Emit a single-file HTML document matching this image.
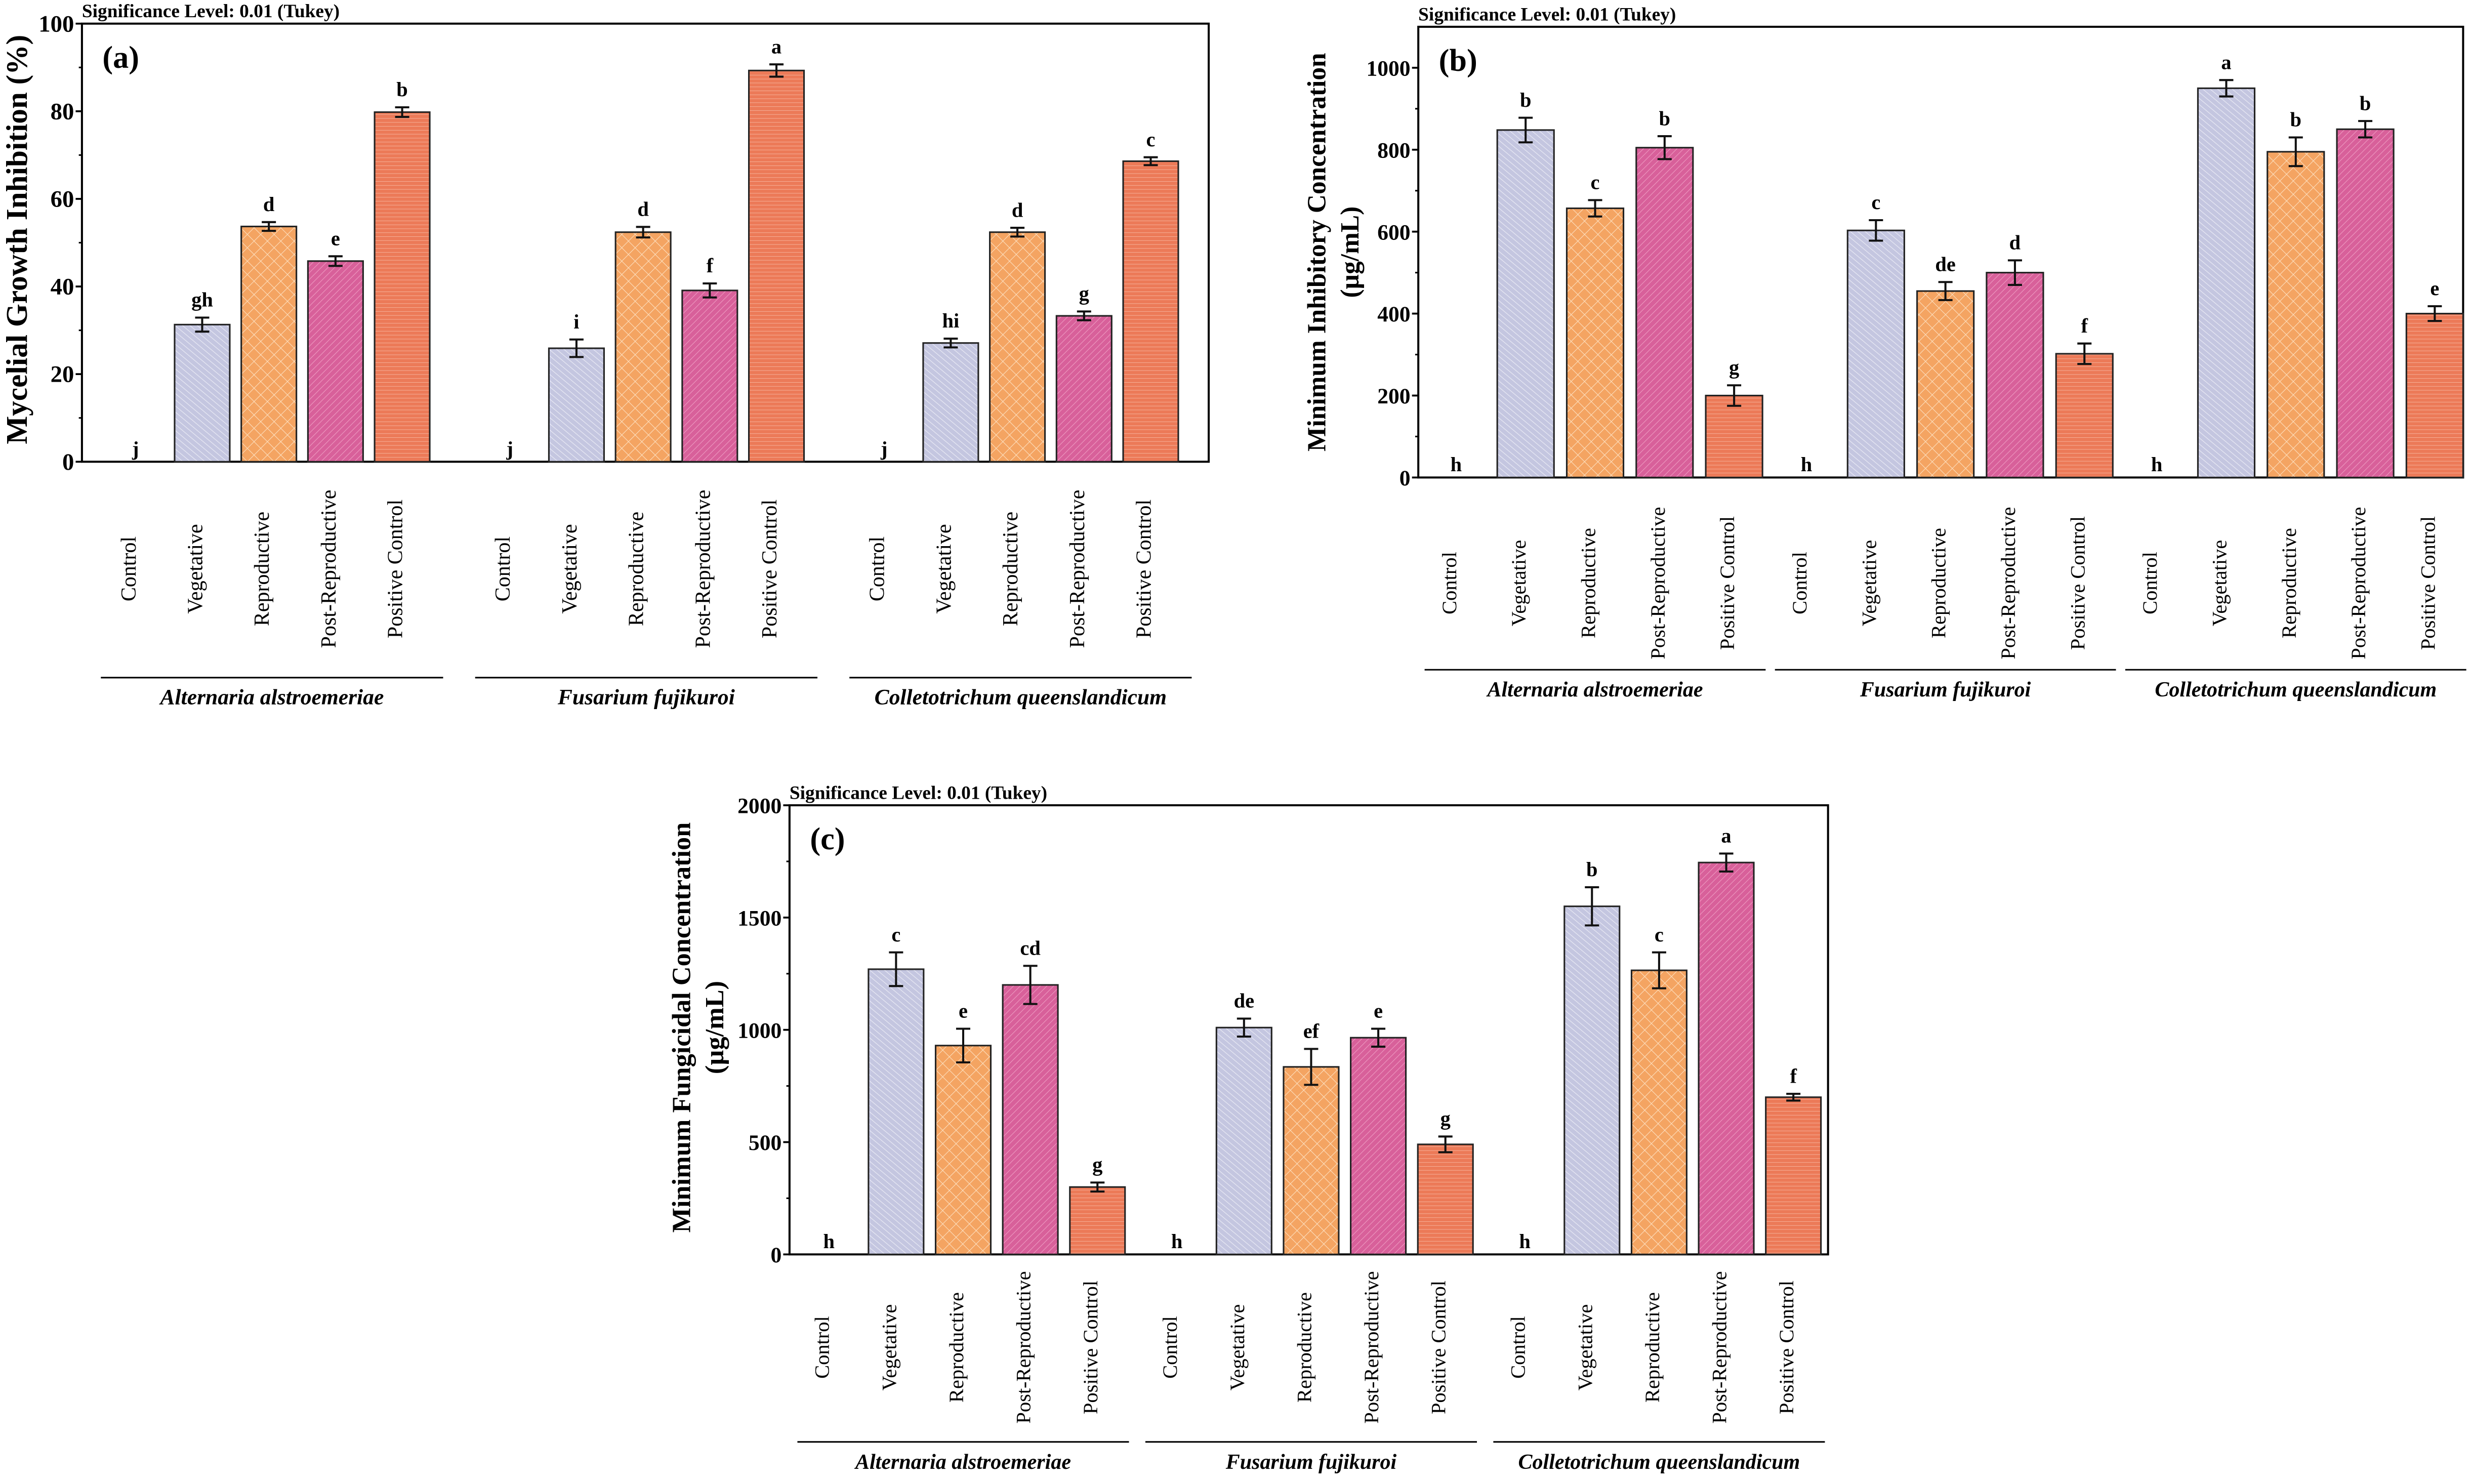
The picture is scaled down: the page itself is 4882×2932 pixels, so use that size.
<!DOCTYPE html>
<html><head><meta charset="utf-8">
<style>
html,body{margin:0;padding:0;background:#fff;}
svg{display:block;}
text{font-family:"Liberation Serif",serif;}
</style></head>
<body>
<svg id="fig" xmlns="http://www.w3.org/2000/svg" width="4882" height="2932" viewBox="0 0 1568 941.7">
<defs>
<pattern id="pVeg" patternUnits="userSpaceOnUse" width="3" height="3" patternTransform="rotate(-50)">
<rect width="3" height="3" fill="#c4c6e0"/><line x1="0" y1="0" x2="0" y2="3" stroke="#e8e9f4" stroke-width="0.8"/></pattern>
<pattern id="pRep" patternUnits="userSpaceOnUse" width="6" height="6" patternTransform="rotate(45)">
<rect width="6" height="6" fill="#f4a462"/><line x1="0" y1="0" x2="6" y2="0" stroke="#fde0c0" stroke-width="0.7"/><line x1="0" y1="0" x2="0" y2="6" stroke="#fde0c0" stroke-width="0.7"/></pattern>
<pattern id="pPost" patternUnits="userSpaceOnUse" width="3" height="3" patternTransform="rotate(45)">
<rect width="3" height="3" fill="#d8609a"/><line x1="0" y1="0" x2="0" y2="3" stroke="#ee9cc2" stroke-width="0.7"/></pattern>
<pattern id="pPos" patternUnits="userSpaceOnUse" width="3" height="2.5">
<rect width="3" height="2.5" fill="#ec7a58"/><line x1="0" y1="0" x2="3" y2="0" stroke="#f6b39c" stroke-width="0.6"/></pattern>
</defs>
<g id="root"></g>
</svg>
<script>
// ---- data ----
const categories = ["Control","Vegetative","Reproductive","Post-Reproductive","Positive Control"];
const groups = ["Alternaria alstroemeriae","Fusarium fujikuroi","Colletotrichum queenslandicum"];
// Panel (a) Mycelial Growth Inhibition (%)
const aValues = [[0,31.3,53.7,45.8,79.8],[0,25.9,52.4,39.1,89.3],[0,27.1,52.4,33.3,68.6]];
const aErrors = [[0,1.6,1.0,1.1,1.1],[0,2.0,1.2,1.6,1.4],[0,1.0,1.0,1.0,0.9]];
const aLetters = [["j","gh","d","e","b"],["j","i","d","f","a"],["j","hi","d","g","c"]];
const aTicks = [0,20,40,60,80,100];
// Panel (b) MIC
const bValues = [[0,848,657,805,200],[0,603,455,500,302],[0,950,795,850,400]];
const bErrors = [[0,30,20,28,25],[0,25,22,30,25],[0,20,35,20,18]];
const bLetters = [["h","b","c","b","g"],["h","c","de","d","f"],["h","a","b","b","e"]];
const bTicks = [0,200,400,600,800,1000];
// Panel (c) MFC
const cValues = [[0,1270,930,1200,300],[0,1010,835,965,490],[0,1550,1265,1745,700]];
const cErrors = [[0,75,75,85,20],[0,40,80,40,35],[0,85,80,40,15]];
const cLetters = [["h","c","e","cd","g"],["h","de","ef","e","g"],["h","b","c","a","f"]];
const cTicks = [0,500,1000,1500,2000];

const fills = [null,"url(#pVeg)","url(#pRep)","url(#pPost)","url(#pPos)"];
const NS = "http://www.w3.org/2000/svg";
const root = document.getElementById("root");
function mk(tag, attrs, parent, txt){
  const e = document.createElementNS(NS, tag);
  for (const k in attrs) e.setAttribute(k, attrs[k]);
  if (txt !== undefined) e.textContent = txt;
  (parent||root).appendChild(e);
  return e;
}

function panel(cfg){
  const g = mk("g", {});
  
  
  const yS = v => cfg.bottom - (v - 0) / cfg.max * (cfg.bottom - cfg.top);
  const xS = (gi, ci) => cfg.x0 + gi * cfg.gstep + ci * cfg.cstep;
  const fr = mk("rect", {x:cfg.left, y:cfg.top, width:cfg.right-cfg.left, height:cfg.bottom-cfg.top, fill:"none", stroke:"#000", "stroke-width":1.3}, g);
  
  
  const sg = mk("text", {x:cfg.left, y:cfg.top-4, "font-size":12, "font-weight":"bold"}, g, "Significance Level: 0.01 (Tukey)");
  
  
  const pl = mk("text", {x:cfg.left+13, y:cfg.top+28, "font-size":20, "font-weight":"bold"}, g, "(" + cfg.id + ")");
  
  
  cfg.ticks.forEach((t, i) => {
    const y = yS(t);
    const tl = mk("line", {x1:cfg.left-4, x2:cfg.left, y1:y, y2:y, stroke:"#000", "stroke-width":1.2}, g);
    
    
    const tt = mk("text", {x:cfg.left-5, y:y+5, "font-size":cfg.tfs, "font-weight":"bold", "text-anchor":"end"}, g, String(t));
    
    
    if (i < cfg.ticks.length - 1) {
      const ym = yS((t + cfg.ticks[i+1]) / 2);
      const mn = mk("line", {x1:cfg.left-2, x2:cfg.left, y1:ym, y2:ym, stroke:"#000", "stroke-width":1}, g);
      
      
    }
  });
  cfg.ytitle.forEach((s, i) => {
    const x = cfg.ytx + i * cfg.ytdx;
    const yt = mk("text", {x:x, y:cfg.yty, "font-size":cfg.ytfs, "font-weight":"bold", "text-anchor":"middle", transform:"rotate(-90 " + x + " " + cfg.yty + ")"}, g, s);
    
    
  });
  cfg.values.forEach((row, gi) => {
    row.forEach((v, ci) => {
      const cx = xS(gi, ci);
      const y = yS(v);
      if (v > 0) {
        const b = mk("rect", {x:cx - cfg.bw/2, y:y, width:cfg.bw, height:cfg.bottom - y, fill:fills[ci], stroke:"#222", "stroke-width":1}, g);
        
        
        const e = cfg.errors[gi][ci];
        const e1 = yS(v + e), e2 = yS(v - e);
        const eb = mk("path", {d:"M" + cx + " " + e1 + "V" + e2 + "M" + (cx-4.5) + " " + e1 + "H" + (cx+4.5) + "M" + (cx-4.5) + " " + e2 + "H" + (cx+4.5), stroke:"#111", "stroke-width":1.3, fill:"none"}, g);
        
        
      }
      const ly = v > 0 ? yS(v + cfg.errors[gi][ci]) - 7 : cfg.bottom - 4;
      const lt = mk("text", {x:cx, y:ly, "font-size":13, "font-weight":"bold", "text-anchor":"middle"}, g, cfg.letters[gi][ci]);
      
      
      const xl = mk("text", {x:cx, y:cfg.xly, "font-size":cfg.xfs, "text-anchor":"middle", transform:"rotate(-90 " + cx + " " + cfg.xly + ")"}, g, categories[ci]);
      
      
    });
    const gx1 = xS(gi, 0) - cfg.gpad, gx2 = xS(gi, 4) + cfg.gpad2;
    const gl = mk("line", {x1:gx1, x2:gx2, y1:cfg.gly, y2:cfg.gly, stroke:"#000", "stroke-width":1}, g);
    
    
    const gt = mk("text", {x:(gx1+gx2)/2, y:cfg.gly + 17, "font-size":cfg.gfs, "font-weight":"bold", "font-style":"italic", "text-anchor":"middle"}, g, groups[gi]);
    
    
  });
}

panel({id:"a", left:52, right:767, top:15, bottom:293, max:100, ticks:aTicks, values:aValues, errors:aErrors, letters:aLetters,
  x0:86, gstep:237.5, cstep:42.3, bw:35, tfs:15, ytitle:["Mycelial Growth Inhibition (%)"], ytx:17, ytdx:0, yty:152, ytfs:19,
  xly:361, xfs:13.5, gly:430, gfs:14, gpad:22, gpad2:26});
panel({id:"b", left:900, right:1563, top:17, bottom:303, max:1100, ticks:bTicks, values:bValues, errors:bErrors, letters:bLetters,
  x0:924, gstep:222.3, cstep:44.1, bw:36, tfs:14, ytitle:["Minimum Inhibitory Concentration","(µg/mL)"], ytx:841, ytdx:21, yty:160, ytfs:16.5,
  xly:370, xfs:13, gly:425, gfs:13.5, gpad:20, gpad2:20});
panel({id:"c", left:501, right:1160, top:511, bottom:796, max:2000, ticks:cTicks, values:cValues, errors:cErrors, letters:cLetters,
  x0:526, gstep:220.8, cstep:42.6, bw:35, tfs:14, ytitle:["Minimum Fungicidal Concentration","(µg/mL)"], ytx:438, ytdx:21, yty:652, ytfs:16.8,
  xly:855, xfs:13, gly:915, gfs:13.5, gpad:20, gpad2:20});
</script>
</body></html>
